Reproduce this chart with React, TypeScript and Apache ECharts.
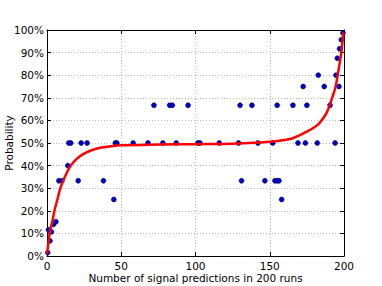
import React, { useEffect, useRef } from "react";
import * as echarts from "echarts";

const signalCounts = [0.5, 1, 2, 3, 4.4, 6, 8, 10, 14, 14.7, 16, 21, 23, 27, 38, 45, 46, 47, 58, 68, 72, 78, 82.6, 84.4, 87, 95, 101.7, 103, 116, 129, 130, 131, 138, 142, 146.7, 152, 153.5, 155, 155, 156.2, 158, 165.6, 169, 172.5, 174, 175, 182, 182.7, 186.7, 190.6, 194, 194.6, 195.5, 196.6, 197, 198.2, 199.3];
const probabilities = [1.5, 11.6, 6.7, 10.7, 14, 15.2, 33.3, 33.3, 40, 50, 50, 33.3, 50, 50, 33.3, 25, 50, 50, 50, 50, 66.7, 50, 66.7, 66.7, 50, 66.7, 50, 50, 50, 50, 66.7, 33.3, 66.7, 50, 33.3, 50, 33.3, 33.3, 66.7, 33.3, 25, 66.7, 50, 75, 50, 66.7, 50, 80, 75, 66.7, 50, 80, 87.5, 75, 91.7, 95.7, 98.7];

const fitX = [0, 1, 2, 3.5, 5, 7, 9, 12, 16, 20, 24, 30, 35, 42, 50, 75, 100, 125, 140, 152, 160, 165, 170, 175, 180, 183, 186, 188, 190, 192, 194, 195.5, 197, 198.2, 199, 199.6];
const fitY = [1, 6, 11, 15, 20, 25, 30, 35, 40, 43, 45, 46.8, 47.8, 48.5, 49, 49.3, 49.5, 49.7, 50.1, 50.7, 51.3, 52, 53.4, 55, 57, 58.5, 61, 63, 66, 70, 74, 79, 85, 90, 95, 99];

const xTicks = { min: 0, max: 200, interval: 50 };
const yTicks = { min: 0, max: 100, interval: 10 };

const FONT = "DejaVu Sans";

export default function App() {
  const ref = useRef<HTMLDivElement>(null);
  useEffect(() => {
    if (!ref.current) return;
    const chart = echarts.init(ref.current, null, { renderer: "svg" });
    const tickStyle = { show: true, inside: true, length: 4, lineStyle: { color: "#000", width: 1 } };
    const lineStyle = { show: true, onZero: false, lineStyle: { color: "#000", width: 1 } };
    const split = { show: true, lineStyle: { color: "#bdbdbd", type: [1, 2], width: 1 } };
    chart.setOption({
      animation: false,
      grid: { left: 47, right: 38, top: 30, bottom: 30, containLabel: false, outerBoundsMode: "none" },
      xAxis: [
        {
          type: "value", ...xTicks, position: "bottom",
          axisLine: lineStyle, axisTick: tickStyle, splitLine: split,
          axisLabel: { margin: 4, color: "#000", fontFamily: FONT, fontSize: 10.5 },
          name: "Number of signal predictions in 200 runs", nameLocation: "middle", nameGap: 16.5,
          nameMoveOverlap: false,
          nameTextStyle: { color: "#000", fontFamily: FONT, fontSize: 10.5 },
        },
        {
          type: "value", ...xTicks, position: "top",
          axisLine: lineStyle, axisTick: tickStyle, splitLine: { show: false },
          axisLabel: { show: false },
        },
      ],
      yAxis: [
        {
          type: "value", ...yTicks, position: "left",
          axisLine: lineStyle, axisTick: tickStyle, splitLine: split,
          axisLabel: { margin: 3, color: "#000", fontFamily: FONT, fontSize: 10.5, formatter: "{value}%" },
          name: "Probability", nameLocation: "middle", nameGap: 33,
          nameMoveOverlap: false,
          nameTextStyle: { color: "#000", fontFamily: FONT, fontSize: 10.5 },
        },
        {
          type: "value", ...yTicks, position: "right",
          axisLine: lineStyle, axisTick: tickStyle, splitLine: { show: false },
          axisLabel: { show: false },
        },
      ],
      series: [
        {
          type: "scatter",
          data: signalCounts.map((x, i) => [x, probabilities[i]]),
          symbolSize: 5,
          itemStyle: { color: "#0000cc", borderColor: "#000040", borderWidth: 0.5, opacity: 1 },
          z: 3,
        },
        {
          type: "line",
          data: fitX.map((x, i) => [x, fitY[i]]),
          smooth: 0.3,
          showSymbol: false,
          lineStyle: { color: "#ff0000", width: 2.5 },
          z: 4,
        },
      ],
    });
    return () => chart.dispose();
  }, []);
  return <div ref={ref} style={{ width: 382, height: 286, position: "absolute", left: 0, top: 0 }} />;
}
